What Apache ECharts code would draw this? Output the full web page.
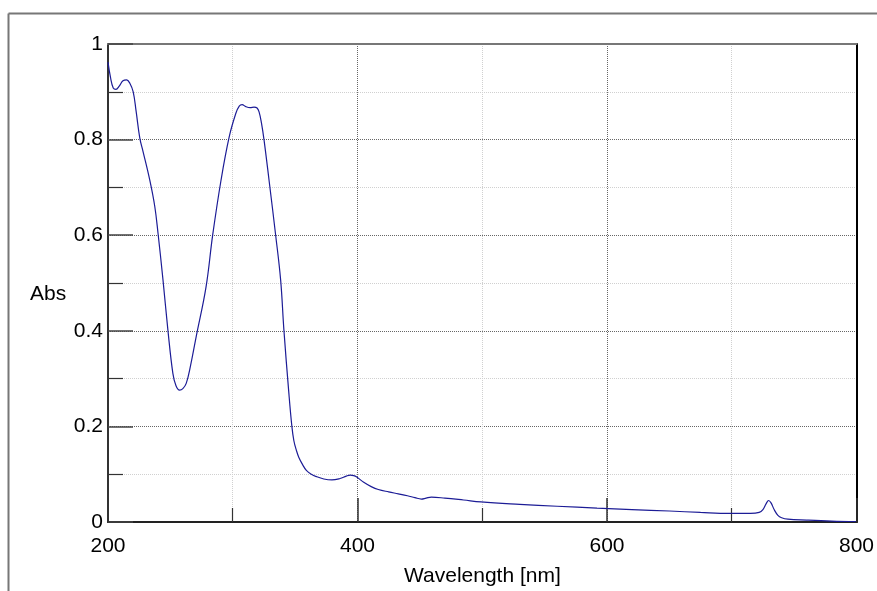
<!DOCTYPE html>
<html>
<head>
<meta charset="utf-8">
<script src="https://cdn.jsdelivr.net/npm/echarts@6/dist/echarts.min.js"></script>
<style>
html,body{margin:0;padding:0;background:#fff;overflow:hidden;}
#chart{width:877px;height:591px;}
</style>
</head>
<body>
<div id="chart"></div>
<script>
var wavelengths = [200,202,204.2,206.4,209,212,214.9,217.5,220.2,222.5,225.5,228.1,233.5,237.5,240.1,244.1,248,252,254.5,257.4,260,262.7,266,270.7,278.6,283.9,290.6,297.2,302.5,305.2,307.5,310.5,314,317.1,319.5,321.1,323,325.1,329.1,334.4,338.4,341,345,347.4,349,351,353,356,359,363,367,373,379.5,386,391,394.2,397,399.4,405,411,416.7,425,432.7,440,446,451.2,455,459.2,470,485,499,530,560,592,620,650,675,698.3,715,722,725,727.5,729.6,731.5,734,737,740,745,760,780,799.5];
var absorbance = [0.962,0.93,0.908,0.905,0.912,0.923,0.925,0.918,0.900,0.86,0.803,0.775,0.715,0.660,0.604,0.506,0.402,0.311,0.285,0.276,0.279,0.290,0.325,0.388,0.492,0.600,0.715,0.806,0.855,0.870,0.873,0.869,0.867,0.868,0.866,0.858,0.835,0.799,0.715,0.600,0.506,0.402,0.269,0.200,0.170,0.150,0.135,0.120,0.108,0.100,0.095,0.090,0.088,0.091,0.096,0.098,0.097,0.094,0.083,0.074,0.068,0.063,0.059,0.055,0.051,0.048,0.050,0.052,0.050,0.046,0.042,0.037,0.033,0.029,0.026,0.023,0.020,0.018,0.018,0.020,0.026,0.038,0.045,0.040,0.026,0.014,0.009,0.006,0.004,0.002,0.001];
var xTicks = [200, 400, 600, 800];
var yTicks = [0, 0.2, 0.4, 0.6, 0.8, 1];
var xTitle = 'Wavelength [nm]';
var yTitle = 'Abs';

var seriesData = wavelengths.map(function (w, i) { return [w, absorbance[i]]; });
var FONT = '"Liberation Sans", Arial, sans-serif';

var chart = echarts.init(document.getElementById('chart'), null, {renderer: 'canvas', width: 877, height: 591});
chart.setOption({
  animation: false,
  backgroundColor: '#fff',
  grid: {left: 108, right: 16, top: 44, bottom: 69, containLabel: false},
  xAxis: [{
    type: 'value', position: 'bottom',
    min: xTicks[0], max: xTicks[xTicks.length - 1], interval: xTicks[1] - xTicks[0],
    axisLine: {show: true, onZero: false, lineStyle: {color: '#222', width: 2}},
    axisTick: {show: true, inside: true, length: 24, lineStyle: {color: '#333', width: 1.5}},
    minorTick: {show: true, splitNumber: 2, length: 14, lineStyle: {color: '#333', width: 1.2}},
    splitLine: {show: true, lineStyle: {color: '#666', type: 'dotted', width: 1}},
    minorSplitLine: {show: true, lineStyle: {color: '#d0d0d0', type: 'dotted', width: 1}},
    axisLabel: {color: '#000', fontSize: 21, fontFamily: FONT, margin: 14,
      formatter: function (v) { return String(v); }}
  }, {
    type: 'value', position: 'top',
    min: xTicks[0], max: xTicks[xTicks.length - 1],
    axisLine: {show: true, onZero: false, lineStyle: {color: '#777', width: 2}},
    axisTick: {show: false}, axisLabel: {show: false}, splitLine: {show: false}
  }],
  yAxis: [{
    type: 'value', position: 'left',
    min: yTicks[0], max: yTicks[yTicks.length - 1], interval: yTicks[1] - yTicks[0],
    axisLine: {show: true, onZero: false, lineStyle: {color: '#333', width: 2}},
    axisTick: {show: true, inside: true, length: 25, lineStyle: {color: '#444', width: 1.5}},
    minorTick: {show: true, splitNumber: 2, length: 15, lineStyle: {color: '#333', width: 1.2}},
    splitLine: {show: true, lineStyle: {color: '#666', type: 'dotted', width: 1}},
    minorSplitLine: {show: true, lineStyle: {color: '#d0d0d0', type: 'dotted', width: 1}},
    axisLabel: {color: '#000', fontSize: 21, fontFamily: FONT, margin: 5,
      formatter: function (v) { return String(Math.round(v * 10) / 10); }}
  }, {
    type: 'value', position: 'right',
    min: yTicks[0], max: yTicks[yTicks.length - 1],
    axisLine: {show: true, onZero: false, lineStyle: {color: '#000', width: 2}},
    axisTick: {show: false}, axisLabel: {show: false}, splitLine: {show: false}
  }],
  series: [{
    type: 'line',
    xAxisIndex: 0, yAxisIndex: 0,
    data: seriesData,
    showSymbol: false,
    smooth: 0.4,
    lineStyle: {color: '#1c1c96', width: 1.2},
    itemStyle: {color: '#1c1c96'}
  }],
  graphic: [
    {type: 'line', shape: {x1: 8.5, y1: 13.5, x2: 877, y2: 13.5}, style: {stroke: '#777', lineWidth: 2}, silent: true},
    {type: 'line', shape: {x1: 8.5, y1: 13.5, x2: 8.5, y2: 591}, style: {stroke: '#777', lineWidth: 2}, silent: true},
    {type: 'text', left: 30, top: 284, style: {text: yTitle, fill: '#000', font: '21px ' + FONT}},
    {type: 'text', left: 404, top: 566, style: {text: xTitle, fill: '#000', font: '21px ' + FONT}}
  ]
});
</script>
</body>
</html>
